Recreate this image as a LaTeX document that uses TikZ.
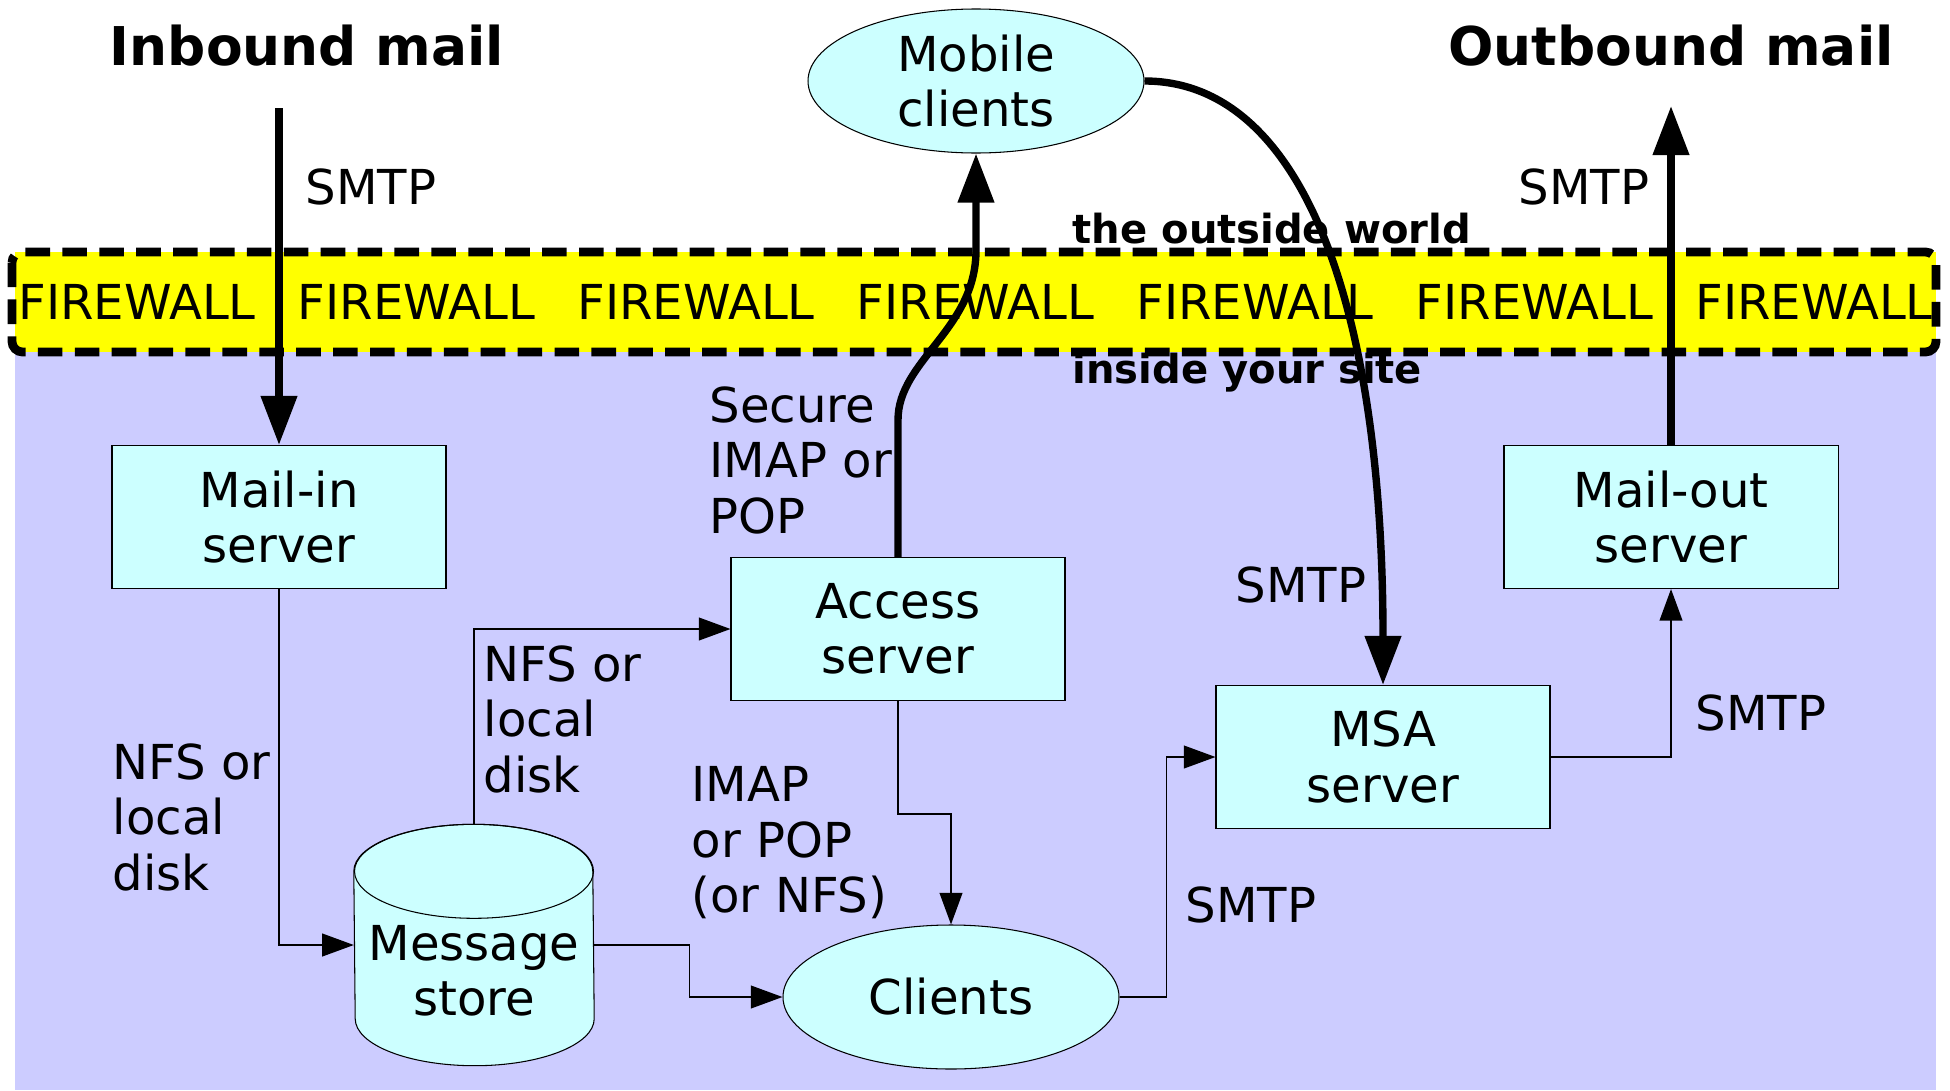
\documentclass[tikz,border=0pt]{standalone}
\usepackage{fontspec}
\setmainfont{DejaVu Sans}
\usetikzlibrary{arrows.meta,shapes.geometric,positioning}

\definecolor{boxcyan}{HTML}{CCFFFF}
\definecolor{sitebg}{HTML}{CCCCFF}
\definecolor{fwyellow}{HTML}{FFFF00}

\newcommand{\lblfont}{\fontsize{13.7}{15.8}\selectfont}
\newcommand{\headfont}{\fontsize{15.2}{18}\selectfont\bfseries}
\newcommand{\zonefont}{\fontsize{11.4}{13.5}\selectfont\bfseries}

\tikzset{
    server/.style={rectangle, draw, line width=0.3pt, fill=boxcyan, align=center,
        minimum width=33.4mm, minimum height=14.3mm, font=\lblfont},
    client/.style={ellipse, draw, line width=0.3pt, fill=boxcyan, align=center,
        inner sep=0pt, minimum width=33.6mm, minimum height=14.4mm, font=\lblfont},
    proto/.style={inner sep=0pt, align=left, font=\lblfont},
    thinarrow/.style={line width=0.4pt, -{Triangle[length=9pt,width=6.5pt]}},
    thickarrow/.style={line width=2.1pt, -{Triangle[length=14pt,width=10pt]}}
}

\begin{document}
\begin{tikzpicture}[x=0.1mm, y=-0.1mm]
        \useasboundingbox (0,0) rectangle (1950,1090);
        \fill [sitebg] (15,350) rectangle (1936,1090);
        \fill [fwyellow] (15,252) rectangle (1936,352);
        \draw [line width=2.5pt, dash pattern=on 7pt off 3.5pt, rounded corners=3pt] (12,252) rectangle (1936,352);
        \foreach \i in {0,...,6}
            \node [font=\lblfont, inner sep=0pt] (fw\i) at (137+279.5*\i,302) {FIREWALL};

        \node [font=\headfont] (intitle) at (307,46) {Inbound mail};
        \node [font=\headfont] (outtitle) at (1671,46) {Outbound mail};
        \node [font=\zonefont, anchor=west, inner sep=0pt] (outside) at (1072,229) {the outside world};
        \node [font=\zonefont, anchor=west, inner sep=0pt] (inside) at (1072,373) {inside your site};

        \node [server] (mailin) at (279,517) {Mail-in\\server};
        \node [server] (access) at (898,629) {Access\\server};
        \node [server] (mailout) at (1671,517) {Mail-out\\server};
        \node [server] (msa) at (1383,757) {MSA\\server};
        \node [client] (mobile) at (976,81) {Mobile\\clients};
        \node [client] (clients) at (951,997) {Clients};

        % message store drum
        \node [inner sep=0pt, minimum width=23.9mm, minimum height=24mm] (store) at (474,945) {};
        \filldraw [fill=boxcyan, line width=0.3pt] (store.north west) ++(0,47)
            arc [start angle=180, end angle=0, x radius=11.95mm, y radius=4.7mm]
            -- ([yshift=4.7mm]store.south east)
            arc [start angle=0, end angle=-180, x radius=11.95mm, y radius=4.7mm] -- cycle;
        \draw [line width=0.3pt] ([yshift=-4.7mm]store.north) ellipse [x radius=11.95mm, y radius=4.7mm];
        \node [font=\lblfont, align=center] (storetext) at (474,971) {Message\\store};

        \coordinate (infrom) at (279,108);
        \coordinate (outto) at (1671,106);

        \node [proto, anchor=west] at (305,187) {SMTP};
        \node [proto, anchor=east] at (1650,187) {SMTP};
        \node [proto, anchor=west] at (709,460) {Secure\\IMAP or\\POP};
        \node [proto, anchor=west] at (1235,585) {SMTP};
        \node [proto, anchor=west] at (112,817) {NFS or\\local\\disk};
        \node [proto, anchor=west] at (483,719) {NFS or\\local\\disk};
        \node [proto, anchor=west] at (691,843) {IMAP\\or POP\\(or NFS)};
        \node [proto, anchor=west] at (1185,905) {SMTP};
        \node [proto, anchor=west] at (1695,713) {SMTP};

        \draw [thinarrow] (mailin.south) |- (store.west);
        \draw [thinarrow] (store.north) |- (access.west);
        \draw [thinarrow] (store.east) -- ++(95,0) |- (clients.west);
        \draw [thinarrow] (access.south) -- ++(0,113) -| (clients.north);
        \draw [thinarrow] (clients.east) -- ++(47,0) |- (msa.west);
        \draw [thinarrow] (msa.east) -| (mailout.south);

        \draw [thickarrow] (infrom) -- (mailin.north);
        \draw [thickarrow] (mailout.north) -- (outto);
        \draw [thickarrow] (access.north) -- ++(0,-137) .. controls (898,360) and (976,330) .. (976,250) -- (mobile.south);
        \draw [thickarrow] (mobile.east) .. controls (1300,81) and (1383,300) .. (msa.north);
    \end{tikzpicture}
\end{document}
